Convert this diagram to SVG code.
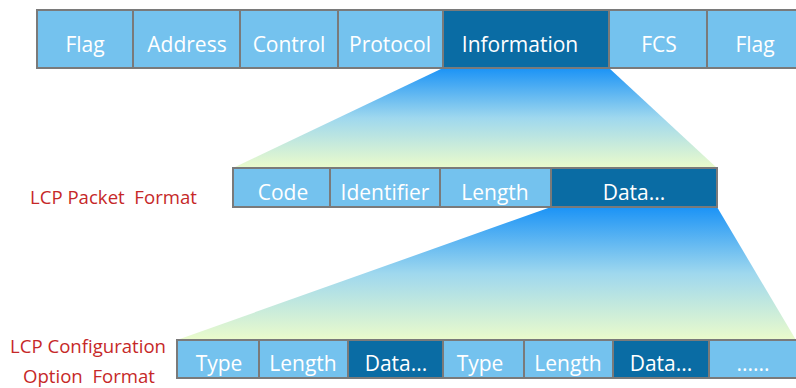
<svg xmlns="http://www.w3.org/2000/svg" width="796" height="388" viewBox="0 0 796 388">
<defs>
<linearGradient id="g1" x1="0" y1="0" x2="0" y2="1">
<stop offset="0" stop-color="#1b93f6"/>
<stop offset="0.5" stop-color="#9fd8ee"/>
<stop offset="1" stop-color="#ebfbcb"/>
</linearGradient>
<style>
.l{fill:#74c2ee;stroke:#7a7a7a;stroke-width:2}
.d{fill:#0a6ca4;stroke:#7a7a7a;stroke-width:2}
.t{font-family:"Open Sans","Liberation Sans",sans-serif;font-size:21px;fill:#ffffff;text-anchor:middle}
.r{font-family:"Open Sans","Liberation Sans",sans-serif;font-size:18.6px;fill:#c62828;white-space:pre}
</style>
</defs>
<rect width="796" height="388" fill="#ffffff"/>
<g id="connectors">
<polygon points="443,68 609,68 717,168 233,168" fill="url(#g1)"/>
<polygon points="551,207 717,207 796,340 177,340" fill="url(#g1)"/>
</g>
<g id="ppp-frame">
<g id="f-flag1"><rect class="l" x="37" y="10" width="96" height="58"/><text class="t" x="85" y="52">Flag</text></g>
<g id="f-address"><rect class="l" x="133" y="10" width="107" height="58"/><text class="t" x="187" y="52">Address</text></g>
<g id="f-control"><rect class="l" x="240" y="10" width="98" height="58"/><text class="t" x="289" y="52">Control</text></g>
<g id="f-protocol"><rect class="l" x="338" y="10" width="105" height="58"/><text class="t" x="390" y="52">Protocol</text></g>
<g id="f-information"><rect class="d" x="443" y="10" width="166" height="58"/><text class="t" x="520" y="52">Information</text></g>
<g id="f-fcs"><rect class="l" x="609" y="10" width="98" height="58"/><text class="t" x="659" y="52">FCS</text></g>
<g id="f-flag2"><rect class="l" x="707" y="10" width="92" height="58"/><text class="t" x="755" y="52">Flag</text></g>
</g>
<g id="lcp-packet">
<text class="r" x="30" y="204">LCP Packet  Format</text>
<g id="p-code"><rect class="l" x="233" y="168" width="97" height="39"/><text class="t" x="283" y="200">Code</text></g>
<g id="p-identifier"><rect class="l" x="330" y="168" width="110" height="39"/><text class="t" x="385" y="200">Identifier</text></g>
<g id="p-length"><rect class="l" x="440" y="168" width="111" height="39"/><text class="t" x="495" y="200">Length</text></g>
<g id="p-data"><rect class="d" x="551" y="168" width="166" height="39"/><text class="t" x="634" y="200">Data...</text></g>
</g>
<g id="lcp-option">
<text class="r" x="10" y="353">LCP Configuration</text>
<text class="r" x="23" y="383">Option  Format</text>
<g id="o-type1"><rect class="l" x="177" y="340" width="82" height="38"/><text class="t" x="219" y="371">Type</text></g>
<g id="o-length1"><rect class="l" x="259" y="340" width="89" height="38"/><text class="t" x="303" y="371">Length</text></g>
<g id="o-data1"><rect class="d" x="348" y="340" width="95" height="38"/><text class="t" x="396" y="371">Data...</text></g>
<g id="o-type2"><rect class="l" x="443" y="340" width="81" height="38"/><text class="t" x="480" y="371">Type</text></g>
<g id="o-length2"><rect class="l" x="524" y="340" width="89" height="38"/><text class="t" x="568" y="371">Length</text></g>
<g id="o-data2"><rect class="d" x="613" y="340" width="96" height="38"/><text class="t" x="661" y="371">Data...</text></g>
<g id="o-more"><rect class="l" x="709" y="340" width="90" height="38"/><text class="t" x="753" y="371">......</text></g>
</g>
</svg>
